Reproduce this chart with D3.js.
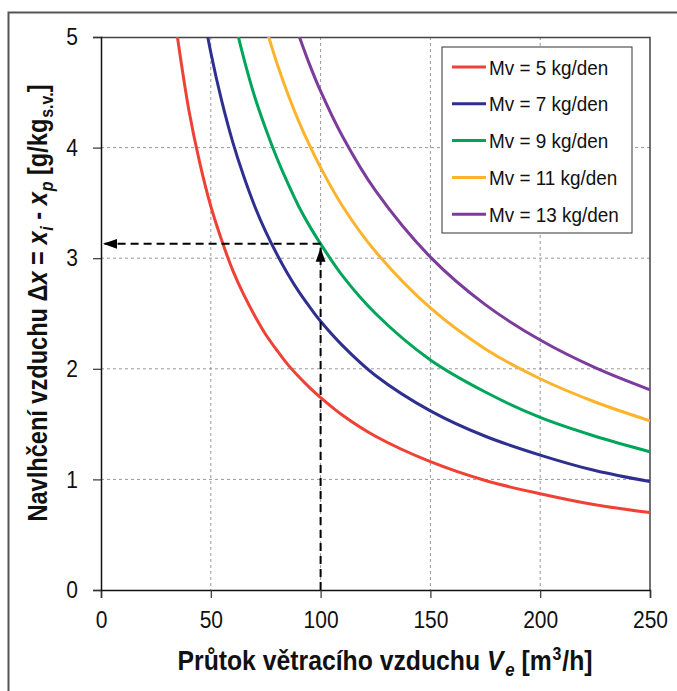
<!DOCTYPE html>
<html>
<head>
<meta charset="utf-8">
<script src="https://cdn.jsdelivr.net/npm/d3@7"></script>
<style>
  html, body { margin: 0; padding: 0; background: #fff; }
  svg { display: block; }
  text { font-family: "Liberation Sans", Arial, sans-serif; fill: #111; }
</style>
</head>
<body>
<div id="chart"></div>
<script>
// flow rate of ventilation air [m3/h]
var flows = [34, 40, 45, 50, 55, 60, 65, 70, 75, 80, 85, 90, 95, 100, 110, 125, 150, 175, 200, 225, 250];
var seriesNames = ['Mv = 5 kg/den', 'Mv = 7 kg/den', 'Mv = 9 kg/den', 'Mv = 11 kg/den', 'Mv = 13 kg/den'];
var seriesColors = ['#ef4135', '#2e2f8f', '#00a55a', '#fdb32b', '#7b3c9b'];
// humidification dx [g/kg]
var mv5  = [5.11, 4.34, 3.86, 3.47, 3.16, 2.89, 2.67, 2.48, 2.31, 2.17, 2.04, 1.93, 1.83, 1.74, 1.58, 1.39, 1.16, 0.99, 0.87, 0.77, 0.70];
var mv7  = [null, null, 5.40, 4.86, 4.42, 4.05, 3.74, 3.47, 3.24, 3.04, 2.86, 2.70, 2.56, 2.43, 2.21, 1.94, 1.62, 1.39, 1.22, 1.08, 0.98];
var mv9  = [null, null, null, null, null, 5.21, 4.81, 4.46, 4.17, 3.91, 3.68, 3.47, 3.29, 3.13, 2.84, 2.50, 2.08, 1.79, 1.56, 1.39, 1.25];
var mv11 = [null, null, null, null, null, null, null, null, 5.09, 4.77, 4.49, 4.24, 4.02, 3.82, 3.47, 3.06, 2.55, 2.18, 1.91, 1.70, 1.53];
var mv13 = [null, null, null, null, null, null, null, null, null, null, null, 5.02, 4.75, 4.51, 4.10, 3.61, 3.01, 2.58, 2.26, 2.01, 1.81];
var seriesValues = [mv5, mv7, mv9, mv11, mv13];
var xTicks = [0, 50, 100, 150, 200, 250];
var yTicks = [0, 1, 2, 3, 4, 5];
// worked example: read-off point
var readFlow = 100, readDx = 3.13;

var W = 677, H = 691;
var margin = {left: 101, top: 37, right: 27, bottom: 101};
var pw = W - margin.left - margin.right, ph = H - margin.top - margin.bottom;

// squeeze text horizontally (original uses a narrow font)
function narrow(sel, factor) {
  sel.each(function() {
    var len = this.getComputedTextLength();
    d3.select(this).attr('textLength', len * factor).attr('lengthAdjust', 'spacingAndGlyphs');
  });
}

var svg = d3.select('#chart').append('svg').attr('width', W).attr('height', H);

// outer frame (only top/left visible)
svg.append('rect').attr('x', 8.5).attr('y', 12.5).attr('width', 800).attr('height', 800)
  .attr('fill', 'none').attr('stroke', '#555').attr('stroke-width', 2);

var g = svg.append('g').attr('transform', 'translate(' + margin.left + ',' + margin.top + ')');

var x = d3.scaleLinear().domain([0, 250]).range([0, pw]);
var y = d3.scaleLinear().domain([0, 5]).range([ph, 0]);

// grid
g.append('g').selectAll('line').data(xTicks.slice(1, -1)).enter().append('line')
  .attr('x1', function(d){ return x(d); }).attr('x2', function(d){ return x(d); })
  .attr('y1', 0).attr('y2', ph)
  .attr('stroke', '#999').attr('stroke-dasharray', '3,3');
g.append('g').selectAll('line').data(yTicks.slice(1, -1)).enter().append('line')
  .attr('y1', function(d){ return y(d); }).attr('y2', function(d){ return y(d); })
  .attr('x1', 0).attr('x2', pw)
  .attr('stroke', '#999').attr('stroke-dasharray', '3,3');

// plot frame top/right
g.append('path').attr('d', 'M0,0.5H' + pw + 'V' + ph)
  .attr('fill', 'none').attr('stroke', '#444').attr('stroke-width', 1.5);

// curves
g.append('clipPath').attr('id', 'clip').append('rect').attr('width', pw).attr('height', ph);
var line = d3.line()
  .defined(function(d){ return d[1] != null; })
  .x(function(d){ return x(d[0]); })
  .y(function(d){ return y(d[1]); })
  .curve(d3.curveCatmullRom);
g.append('g').attr('clip-path', 'url(#clip)').selectAll('path').data(seriesValues).enter().append('path')
  .attr('d', function(vals){ return line(flows.map(function(f, i){ return [f, vals[i]]; })); })
  .attr('fill', 'none')
  .attr('stroke', function(d, i){ return seriesColors[i]; })
  .attr('stroke-width', 3);

// dashed read-off lines with arrows
var defs = svg.append('defs');
defs.append('marker').attr('id', 'arr').attr('viewBox', '0 0 10 10').attr('refX', 10).attr('refY', 5)
  .attr('markerWidth', 14).attr('markerHeight', 14).attr('markerUnits', 'userSpaceOnUse')
  .attr('orient', 'auto')
  .append('path').attr('d', 'M0,1.5L10,5L0,8.5Z').attr('fill', '#000');
g.append('line')
  .attr('x1', x(readFlow)).attr('x2', x(readFlow)).attr('y1', y(0)).attr('y2', y(readDx) + 4)
  .attr('stroke', '#000').attr('stroke-width', 2).attr('stroke-dasharray', '8,5')
  .attr('marker-end', 'url(#arr)');
g.append('line')
  .attr('x1', x(readFlow)).attr('x2', x(0) + 2).attr('y1', y(readDx)).attr('y2', y(readDx))
  .attr('stroke', '#000').attr('stroke-width', 2).attr('stroke-dasharray', '8,5')
  .attr('marker-end', 'url(#arr)');

// axes
var xAxis = g.append('g').attr('transform', 'translate(0,' + ph + ')')
  .call(d3.axisBottom(x).tickValues(xTicks).tickSize(8).tickPadding(8).tickFormat(d3.format('d')));
var yAxis = g.append('g')
  .call(d3.axisLeft(y).tickValues(yTicks).tickSize(8).tickPadding(15).tickFormat(d3.format('d')));
[xAxis, yAxis].forEach(function(a){
  a.select('.domain').attr('stroke', '#111').attr('stroke-width', 1.5);
  a.selectAll('.tick line').attr('stroke', '#333').attr('stroke-width', 1.2);
  a.selectAll('.tick text').attr('font-size', 24).attr('fill', '#111')
    .style('font-family', '"Liberation Sans", Arial, sans-serif');
  narrow(a.selectAll('.tick text'), 0.875);
});
xAxis.selectAll('.tick text').attr('dy', '0.9em');

// legend
var lg = svg.append('g').attr('transform', 'translate(442,47)');
lg.append('rect').attr('width', 190).attr('height', 186).attr('fill', '#fff')
  .attr('stroke', '#333').attr('stroke-width', 1);
var items = lg.selectAll('g.item').data(seriesNames).enter().append('g')
  .attr('transform', function(d, i){ return 'translate(0,' + (20 + i * 36.8) + ')'; });
items.append('line').attr('x1', 10).attr('x2', 44).attr('stroke-width', 3)
  .attr('stroke', function(d, i){ return seriesColors[i]; });
var legText = items.append('text').attr('x', 47).attr('dy', '0.36em').attr('font-size', 21).text(function(d){ return d; });
narrow(legText, 0.9);

// axis titles
var xt = svg.append('text').attr('x', 385).attr('y', 670).attr('text-anchor', 'middle')
  .attr('font-size', 28).attr('font-weight', 'bold');
xt.append('tspan').text('Průtok větracího vzduchu ');
xt.append('tspan').attr('font-style', 'italic').text('V');
xt.append('tspan').attr('font-style', 'italic').attr('font-size', 19).attr('dx', 2).attr('dy', 6).text('e');
xt.append('tspan').attr('dy', -6).text(' [m');
xt.append('tspan').attr('font-size', 18).attr('dx', 1).attr('dy', -10).text('3');
xt.append('tspan').attr('dx', 1).attr('dy', 10).text('/h]');
xt.attr('textLength', 415).attr('lengthAdjust', 'spacingAndGlyphs');

var yt = svg.append('text').attr('transform', 'translate(47,' + 303 + ') rotate(-90)')
  .attr('text-anchor', 'middle').attr('font-size', 28).attr('font-weight', 'bold');
yt.append('tspan').text('Navlhčení vzduchu Δ');
yt.append('tspan').attr('font-style', 'italic').text('x');
yt.append('tspan').text(' = ');
yt.append('tspan').attr('font-style', 'italic').text('x');
yt.append('tspan').attr('font-style', 'italic').attr('font-size', 19).attr('dx', 1).attr('dy', 6).text('i');
yt.append('tspan').attr('dy', -6).text(' - ');
yt.append('tspan').attr('font-style', 'italic').text('x');
yt.append('tspan').attr('font-style', 'italic').attr('font-size', 19).attr('dx', 1).attr('dy', 6).text('p');
yt.append('tspan').attr('dy', -6).text(' [g/kg');
yt.append('tspan').attr('font-size', 19).attr('dx', 1).attr('dy', 6).text('s.v.');
yt.append('tspan').attr('dy', -6).text(']');
yt.attr('textLength', 437).attr('lengthAdjust', 'spacingAndGlyphs');
</script>
</body>
</html>
